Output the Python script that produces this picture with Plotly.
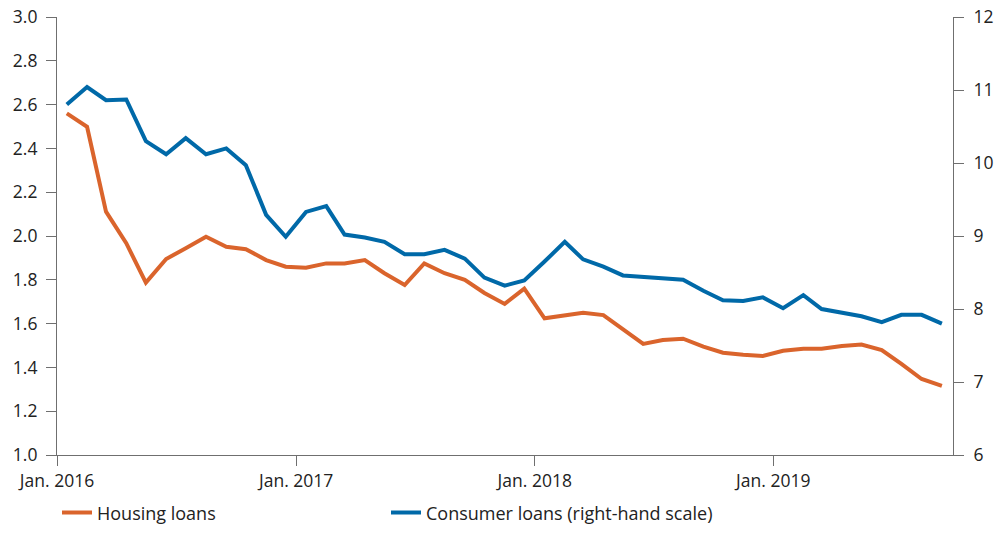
import pandas as pd
import plotly.graph_objects as go

start_month = "2016-01"
n_months = 45

housing_loans = [2.560, 2.499, 2.111, 1.967, 1.787, 1.895, 1.944, 1.997, 1.951, 1.940,
                 1.890, 1.860, 1.855, 1.875, 1.875, 1.890, 1.830, 1.776, 1.875, 1.830,
                 1.800, 1.740, 1.690, 1.760, 1.624, 1.639, 1.650, 1.639, 1.574, 1.507,
                 1.525, 1.531, 1.495, 1.467, 1.458, 1.452, 1.476, 1.485, 1.485, 1.498,
                 1.504, 1.479, 1.416, 1.347, 1.316]

consumer_loans = [10.80, 11.04, 10.86, 10.87, 10.30, 10.12, 10.34, 10.12, 10.20, 9.97,
                  9.29, 8.99, 9.33, 9.41, 9.02, 8.98, 8.92, 8.75, 8.75, 8.81,
                  8.69, 8.43, 8.32, 8.39, 8.65, 8.92, 8.68, 8.58, 8.46, 8.44,
                  8.43, 8.40, 8.25, 8.12, 8.11, 8.16, 8.01, 8.19, 8.00, 7.95,
                  7.90, 7.82, 7.92, 7.92, 7.80]

tick_dates = ["2016-01-01", "2017-01-01", "2018-01-01", "2019-01-01"]
tick_labels = ["Jan. 2016", "Jan. 2017", "Jan. 2018", "Jan. 2019"]
left_ticks = [1.0, 1.2, 1.4, 1.6, 1.8, 2.0, 2.2, 2.4, 2.6, 2.8, 3.0]
right_ticks = [6, 7, 8, 9, 10, 11, 12]

# monthly observations plotted at mid-month
dates = pd.date_range(start=start_month, periods=n_months, freq="MS") + pd.Timedelta(days=15)

ORANGE = "#DA642C"
BLUE = "#0069A8"
AXIS = "#6f6f6f"
TEXT = "#222222"
FONT = "Open Sans"

fig = go.Figure()
fig.add_trace(go.Scatter(x=dates, y=housing_loans, mode="lines", name="Housing loans",
                         line=dict(color=ORANGE, width=4), yaxis="y"))
fig.add_trace(go.Scatter(x=dates, y=consumer_loans, mode="lines",
                         name="Consumer loans (right-hand scale)",
                         line=dict(color=BLUE, width=4), yaxis="y2"))

fig.update_layout(
    width=990, height=519,
    margin=dict(l=49, r=45, t=9, b=72),
    paper_bgcolor="white", plot_bgcolor="white",
    font=dict(family=FONT, size=17.5, color=TEXT),
    xaxis=dict(
        type="date", automargin=False,
        range=["2016-01-01", "2019-10-03"],
        tickvals=tick_dates, ticktext=tick_labels,
        showgrid=False, zeroline=False,
        showline=True, linecolor=AXIS, linewidth=1.2,
        ticks="outside", ticklen=10, tickcolor=AXIS, tickwidth=1,
        tickfont=dict(size=17.5, color=TEXT),
    ),
    yaxis=dict(
        range=[1.0, 3.0], tickvals=left_ticks, tickformat=".1f",
        automargin=False, ticklabeloverflow="allow",
        showgrid=False, zeroline=False,
        showline=True, linecolor=AXIS, linewidth=1.2,
        ticks="outside", ticklen=10, tickcolor=AXIS, tickwidth=1,
        ticklabelstandoff=5,
        tickfont=dict(size=17.5, color=TEXT),
    ),
    yaxis2=dict(
        range=[6, 12], tickvals=right_ticks,
        overlaying="y", side="right", automargin=False, ticklabeloverflow="allow",
        showgrid=False, zeroline=False,
        showline=True, linecolor=AXIS, linewidth=1.2,
        ticks="outside", ticklen=10, tickcolor=AXIS, tickwidth=1,
        ticklabelstandoff=6,
        tickfont=dict(size=17.5, color=TEXT),
    ),
    legend=dict(
        orientation="h", xref="paper", x=0.0, xanchor="left",
        yref="container", y=0.063, yanchor="top",
        entrywidth=284, entrywidthmode="pixels",
        font=dict(family=FONT, size=18, color=TEXT),
        itemwidth=30, bgcolor="rgba(0,0,0,0)",
    ),
    showlegend=True,
)

fig.write_html("out.html")
